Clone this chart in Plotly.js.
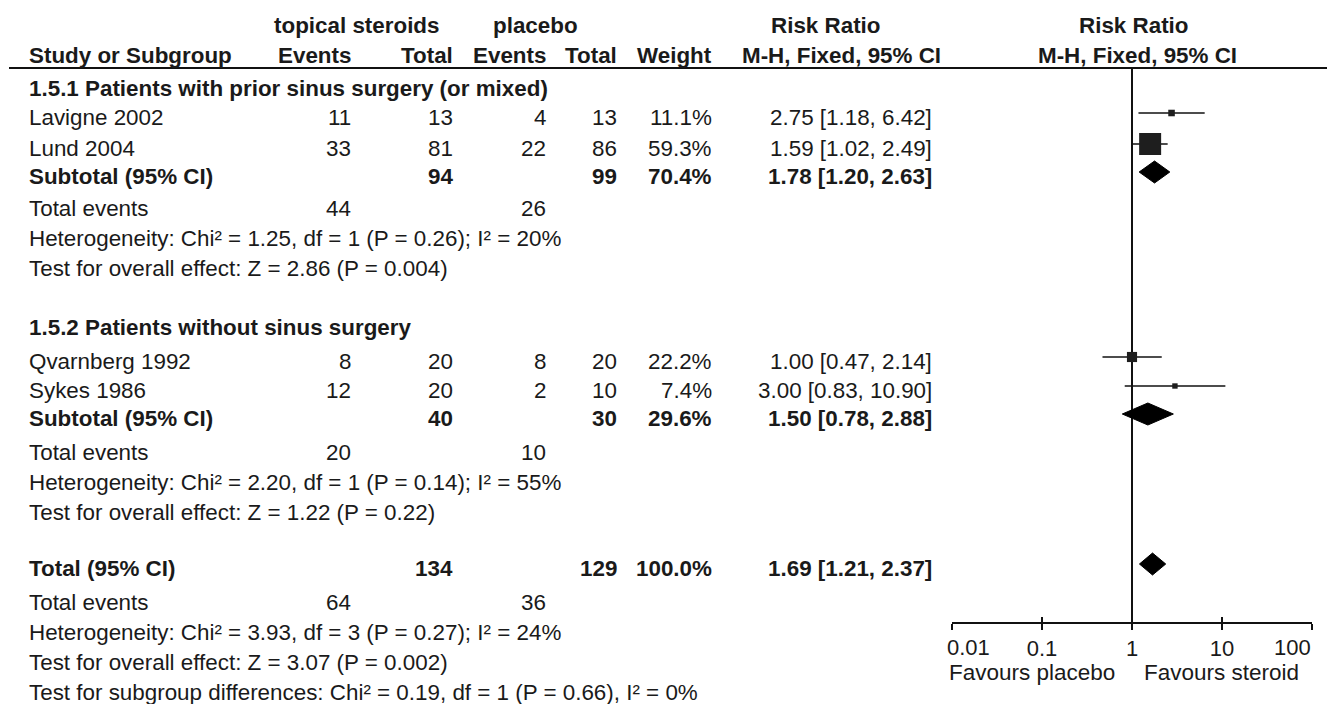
<!DOCTYPE html>
<html><head><meta charset="utf-8">
<script src="https://cdn.plot.ly/plotly-3.0.1.min.js"></script>
<style>html,body{margin:0;padding:0;background:#fff}#chart{width:1327px;height:704px}</style>
</head><body><div id="chart"></div>
<script>
// ---------- DATA ----------
const studies = ['Lavigne 2002', 'Lund 2004', 'Qvarnberg 1992', 'Sykes 1986'];
const studyGroup = [0, 0, 1, 1];
const steroidEvents = [11, 33, 8, 12];
const steroidTotal = [13, 81, 20, 20];
const placeboEvents = [4, 22, 8, 2];
const placeboTotal = [13, 86, 20, 10];
const weights = [11.1, 59.3, 22.2, 7.4];
const rr = [2.75, 1.59, 1.00, 3.00];
const rrLow = [1.18, 1.02, 0.47, 0.83];
const rrHigh = [6.42, 2.49, 2.14, 10.90];

const subgroups = ['1.5.1 Patients with prior sinus surgery (or mixed)', '1.5.2 Patients without sinus surgery'];
const subSteroidTotal = [94, 40];
const subPlaceboTotal = [99, 30];
const subWeight = [70.4, 29.6];
const subRR = [1.78, 1.50];
const subLow = [1.20, 0.78];
const subHigh = [2.63, 2.88];
const subSteroidEvents = [44, 20];
const subPlaceboEvents = [26, 10];
const subHet = ['Heterogeneity: Chi² = 1.25, df = 1 (P = 0.26); I² = 20%',
                'Heterogeneity: Chi² = 2.20, df = 1 (P = 0.14); I² = 55%'];
const subTest = ['Test for overall effect: Z = 2.86 (P = 0.004)',
                 'Test for overall effect: Z = 1.22 (P = 0.22)'];

const totalSteroid = 134, totalPlacebo = 129, totalWeight = 100.0;
const totalRR = 1.69, totalLow = 1.21, totalHigh = 2.37;
const totalSteroidEvents = 64, totalPlaceboEvents = 36;
const totalHet = 'Heterogeneity: Chi² = 3.93, df = 3 (P = 0.27); I² = 24%';
const totalTest = 'Test for overall effect: Z = 3.07 (P = 0.002)';
const subgroupTest = 'Test for subgroup differences: Chi² = 0.19, df = 1 (P = 0.66), I² = 0%';

const tickVals = [0.01, 0.1, 1, 10, 100];
const tickText = ['0.01', '0.1', '1', '10', '100'];
const nullEffect = 1;
const favourLeft = 'Favours placebo', favourRight = 'Favours steroid';

// ---------- LAYOUT (pixel positions) ----------
const W = 1327, H = 704;
const FONT = 'Liberation Sans, Arial, sans-serif';
const TXT = '#1a1a1a';
const FS = 22.4;
const col = {study: 27, stE: 353, stT: 455, plE: 548, plT: 619, wt: 714, rr: 934};
const yStudy = [117, 148, 361, 390];
const yGroup = [88, 327];
const ySub = [176, 418];
const yEv = [208, 452];
const yHet = [238, 482];
const yTest = [268, 512];
const yTotal = 568, yTotEv = 602, yTotHet = 632, yTotTest = 662, ySubTest = 692;
const markShift = -4;
const axisY = 623, headerLine = 68;

const ann = [];
function t(x, y, text, anchor, bold, size) {
  ann.push({xref: 'paper', yref: 'y', x: x / W, y: y, text: text,
    xanchor: anchor, yanchor: 'middle', showarrow: false,
    font: {family: FONT, size: size || FS, color: TXT, weight: bold ? 700 : 400}});
}
const f1 = v => v.toFixed(1) + '%';
const fr = (e, l, h) => e.toFixed(2) + ' [' + l.toFixed(2) + ', ' + h.toFixed(2) + ']';

// headers
t(356, 25, 'topical steroids', 'center', true);
t(535, 25, 'placebo', 'center', true);
t(826, 25, 'Risk Ratio', 'center', true);
t(1134, 25, 'Risk Ratio', 'center', true);
t(col.study, 55, 'Study or Subgroup', 'left', true);
t(col.stE, 55, 'Events', 'right', true);
t(col.stT, 55, 'Total', 'right', true);
t(col.plE, 55, 'Events', 'right', true);
t(col.plT, 55, 'Total', 'right', true);
t(col.wt, 55, 'Weight', 'right', true);
t(943, 55, 'M-H, Fixed, 95% CI', 'right', true);
t(1137, 55, 'M-H, Fixed, 95% CI', 'center', true);

// subgroup blocks
subgroups.forEach((g, gi) => {
  t(col.study, yGroup[gi], g, 'left', true);
  studies.forEach((s, i) => {
    if (studyGroup[i] !== gi) return;
    const y = yStudy[i];
    t(col.study, y, s, 'left', false);
    t(col.stE, y, String(steroidEvents[i]), 'right', false);
    t(col.stT, y, String(steroidTotal[i]), 'right', false);
    t(col.plE, y, String(placeboEvents[i]), 'right', false);
    t(col.plT, y, String(placeboTotal[i]), 'right', false);
    t(col.wt, y, f1(weights[i]), 'right', false);
    t(col.rr, y, fr(rr[i], rrLow[i], rrHigh[i]), 'right', false);
  });
  t(col.study, ySub[gi], 'Subtotal (95% CI)', 'left', true);
  t(col.stT, ySub[gi], String(subSteroidTotal[gi]), 'right', true);
  t(col.plT, ySub[gi], String(subPlaceboTotal[gi]), 'right', true);
  t(col.wt, ySub[gi], f1(subWeight[gi]), 'right', true);
  t(col.rr, ySub[gi], fr(subRR[gi], subLow[gi], subHigh[gi]), 'right', true);
  t(col.study, yEv[gi], 'Total events', 'left', false);
  t(col.stE, yEv[gi], String(subSteroidEvents[gi]), 'right', false);
  t(col.plE, yEv[gi], String(subPlaceboEvents[gi]), 'right', false);
  t(col.study, yHet[gi], subHet[gi], 'left', false);
  t(col.study, yTest[gi], subTest[gi], 'left', false);
});

// overall
t(col.study, yTotal, 'Total (95% CI)', 'left', true);
t(col.stT, yTotal, String(totalSteroid), 'right', true);
t(col.plT, yTotal, String(totalPlacebo), 'right', true);
t(col.wt, yTotal, f1(totalWeight), 'right', true);
t(col.rr, yTotal, fr(totalRR, totalLow, totalHigh), 'right', true);
t(col.study, yTotEv, 'Total events', 'left', false);
t(col.stE, yTotEv, String(totalSteroidEvents), 'right', false);
t(col.plE, yTotEv, String(totalPlaceboEvents), 'right', false);
t(col.study, yTotHet, totalHet, 'left', false);
t(col.study, yTotTest, totalTest, 'left', false);
t(col.study, ySubTest, subgroupTest, 'left', false);

// end tick labels (kept inside the picture, as in the reference)
t(945, 647, tickText[0], 'left', false, 22);
t(1313, 647, tickText[tickText.length - 1], 'right', false, 22);
t(1117, 672, favourLeft, 'right', false, 22.5);
t(1142, 672, favourRight, 'left', false, 22.5);

// ---------- TRACES ----------
const refLine = {x: [nullEffect, nullEffect], y: [headerLine, axisY], mode: 'lines',
  line: {color: '#111', width: 2}, hoverinfo: 'skip', showlegend: false};

const ciX = [], ciY = [];
studies.forEach((s, i) => { ciX.push(rrLow[i], rrHigh[i], null); ciY.push(yStudy[i] + markShift, yStudy[i] + markShift, null); });
const ciTrace = {x: ciX, y: ciY, mode: 'lines', line: {color: '#111', width: 1.6}, hoverinfo: 'skip', showlegend: false};

const sqTrace = {x: rr, y: yStudy.map(v => v + markShift), mode: 'markers', showlegend: false,
  marker: {symbol: 'square', color: '#1e1e1e', opacity: 1, size: weights.map(w => 3 + 19 * w / 59.3), line: {width: 0}},
  text: studies, hoverinfo: 'text+x'};

const dH = 11;
const dX = [], dY = [];
function diamond(e, l, h, y) { dX.push(l, e, h, e, l, null); dY.push(y, y - dH, y, y + dH, y, null); }
subRR.forEach((e, i) => diamond(e, subLow[i], subHigh[i], ySub[i] + markShift));
diamond(totalRR, totalLow, totalHigh, yTotal + markShift);
const dTrace = {x: dX, y: dY, mode: 'lines', fill: 'toself', fillcolor: '#000', line: {color: '#000', width: 1}, hoverinfo: 'skip', showlegend: false};

const dummy = {x: [1], y: [-100], xaxis: 'x2', mode: 'markers', marker: {opacity: 0}, hoverinfo: 'skip', showlegend: false};

const dom = [952 / W, 1312 / W];
const pos = (H - axisY) / H;
const midText = tickText.map((s, i) => (i === 0 || i === tickText.length - 1) ? '' : s);
const layout = {
  width: W, height: H, margin: {l: 0, r: 0, t: 0, b: 0},
  paper_bgcolor: '#fff', plot_bgcolor: 'rgba(0,0,0,0)', showlegend: false,
  xaxis: {type: 'log', range: [-2, 2], domain: dom, anchor: 'free', position: pos,
    showline: true, linewidth: 2, linecolor: '#111', ticks: 'outside', ticklen: 6, tickwidth: 2, tickcolor: '#111',
    tickvals: tickVals, ticktext: midText, tickfont: {family: FONT, size: 22, color: TXT},
    ticklabelstandoff: 0, showgrid: false, zeroline: false, fixedrange: true},
  xaxis2: {type: 'log', range: [-2, 2], domain: dom, anchor: 'free', position: pos, overlaying: 'x',
    showline: false, ticks: 'inside', ticklen: 6, tickwidth: 2, tickcolor: '#111', tickvals: tickVals,
    showticklabels: false, showgrid: false, zeroline: false, fixedrange: true},
  yaxis: {range: [H, 0], domain: [0, 1], visible: false, showgrid: false, zeroline: false, fixedrange: true},
  shapes: [
    {type: 'line', xref: 'paper', yref: 'paper', x0: 9 / W, x1: 1, y0: 1 - headerLine / H, y1: 1 - headerLine / H, line: {color: '#111', width: 2}}
  ],
  annotations: ann
};
Plotly.newPlot('chart', [refLine, ciTrace, sqTrace, dTrace, dummy], layout, {displayModeBar: false, staticPlot: true});
</script>
</body></html>
